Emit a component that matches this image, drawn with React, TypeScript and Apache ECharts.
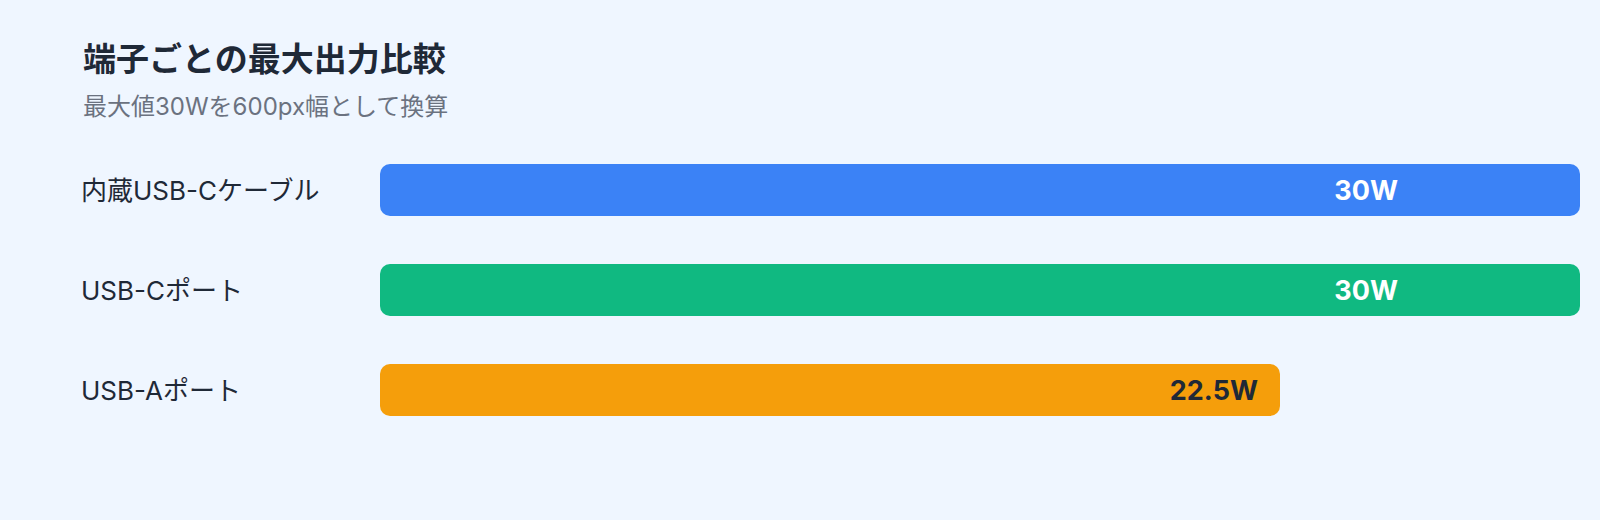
import React, { useEffect, useRef } from 'react';
import * as echarts from 'echarts';

// 端子ごとの最大出力 (W)
const ports = ['内蔵USB-Cケーブル', 'USB-Cポート', 'USB-Aポート'];
const watts = [30, 30, 22.5];
const barColors = ['#3B82F6', '#10B981', '#F59E0B'];
const labelColors = ['#FFFFFF', '#FFFFFF', '#1F2937'];
const maxWatt = 30;

const FONT = 'Inter, "Noto Sans CJK JP", "Noto Sans", sans-serif';

const App = () => {
  const chartRef = useRef<HTMLDivElement>(null);

  useEffect(() => {
    const chart = echarts.init(chartRef.current, null, { renderer: 'svg' });

    chart.setOption({
      animation: false,
      backgroundColor: '#EFF6FF',
      title: {
        text: '端子ごとの最大出力比較',
        subtext: '最大値30Wを600px幅として換算',
        left: 78,
        top: 37,
        itemGap: 20,
        textStyle: { fontFamily: FONT, fontSize: 33, fontWeight: 'bold', color: '#1F2937' },
        subtextStyle: { fontFamily: FONT, fontSize: 24, color: '#6B7280' },
      },
      grid: { left: 380, right: 20, top: 140, bottom: 80 },
      xAxis: { type: 'value', min: 0, max: maxWatt, show: false },
      yAxis: {
        type: 'category',
        data: ports,
        inverse: true,
        axisLine: { show: false },
        axisTick: { show: false },
        axisLabel: {
          align: 'left',
          margin: 299,
          fontFamily: FONT,
          fontSize: 26,
          color: '#1F2937',
        },
      },
      series: [
        {
          type: 'bar',
          barWidth: 52,
          data: watts.map((v, i) => ({
            value: v,
            itemStyle: { color: barColors[i], borderRadius: 10 },
            label: {
              color: labelColors[i],
              distance: v === maxWatt ? 182 : 22,
            },
          })),
          label: {
            show: true,
            position: 'insideRight',
            formatter: (p: any) => `${p.value}W`,
            fontFamily: FONT,
            fontSize: 27,
            fontWeight: 'bold',
          },
        },
      ],
    });

    return () => {
      chart.dispose();
    };
  }, []);

  return (
    <div
      ref={chartRef}
      style={{ position: 'fixed', left: 0, top: 0, width: '1600px', height: '520px' }}
    />
  );
};

export default App;
